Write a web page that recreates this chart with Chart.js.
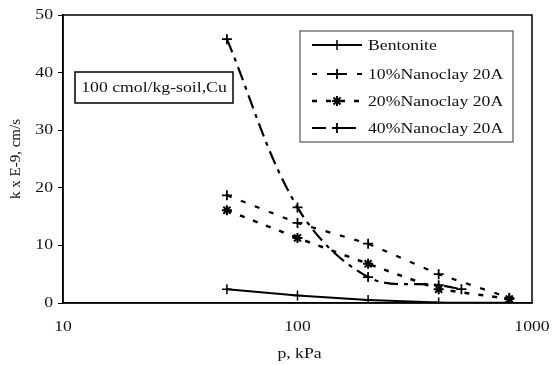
<!DOCTYPE html>
<html>
<head>
<meta charset="utf-8">
<script src="https://cdn.jsdelivr.net/npm/chart.js@4.4.1/dist/chart.umd.min.js"></script>
<style>
  html, body { margin: 0; padding: 0; background: #fff; }
  #wrap { width: 552px; height: 365px; }
</style>
</head>
<body>
<div id="wrap"><canvas id="c" width="552" height="365"></canvas></div>
<script>
// Consolidation pressure (kPa) and hydraulic conductivity k (x 1e-9 cm/s)
const pressure   = [50, 100, 200, 400, 800];
const pressure40 = [50, 100, 200, 400, 500];
const bentonite  = [2.4, 1.3, 0.5, 0.1, 0.05];
const nano10     = [18.7, 13.9, 10.3, 5.0, 0.9];
const nano20     = [16.1, 11.3, 6.8, 2.4, 0.7];
const nano40     = [45.8, 16.6, 4.5, 3.1, 2.4];

const seriesNames = ['Bentonite', '10%Nanoclay 20A', '20%Nanoclay 20A', '40%Nanoclay 20A'];
const xTicks = [10, 100, 1000];
const yTicks = [0, 10, 20, 30, 40, 50];
const noteText = '100 cmol/kg-soil,Cu';
const xTitle = 'p, kPa';
const yTitle = 'k x E-9, cm/s';

const FONT = '15px "Liberation Serif", "Times New Roman", serif';
const INK = '#111';
const SX = 1.18; // horizontal text stretch

const pts = (xs, ys) => xs.map((x, i) => ({ x: x, y: ys[i] }));

const styles = [
  { dash: [],             width: 2,   point: 'cross', radius: 5, pw: 1.5, tension: 0 },
  { dash: [5, 10],        width: 2.2, point: 'cross', radius: 5, pw: 1.8, tension: 0 },
  { dash: [5, 9],         width: 2.5, point: 'star',  radius: 5, pw: 2,   tension: 0 },
  { dash: [14, 6, 4, 6],  width: 2.2, point: 'cross', radius: 5, pw: 1.8, tension: 0.35 }
];

const seriesData = [
  pts(pressure, bentonite),
  pts(pressure, nano10),
  pts(pressure, nano20),
  pts(pressure40, nano40)
];

function stretchedText(ctx, text, x, y, align, baseline) {
  ctx.save();
  ctx.translate(x, y);
  ctx.scale(SX, 1);
  ctx.textAlign = align;
  ctx.textBaseline = baseline || 'middle';
  ctx.fillText(text, 0, 0);
  ctx.restore();
}

const decorPlugin = {
  id: 'decor',
  afterDraw(chart) {
    const { ctx, chartArea: a, scales } = chart;
    ctx.save();

    // plot frame
    ctx.strokeStyle = '#000';
    ctx.lineWidth = 1.5;
    ctx.setLineDash([]);
    ctx.strokeRect(a.left, a.top, a.right - a.left, a.bottom - a.top);

    ctx.font = FONT;
    ctx.fillStyle = INK;

    // tick labels
    yTicks.forEach(v => {
      stretchedText(ctx, String(v), a.left - 10, scales.y.getPixelForValue(v), 'right');
    });
    xTicks.forEach(v => {
      stretchedText(ctx, String(v), scales.x.getPixelForValue(v), 327, 'center');
    });

    // axis titles
    stretchedText(ctx, xTitle, (a.left + a.right) / 2 + 2, 354, 'center');
    ctx.save();
    ctx.translate(16, (a.top + a.bottom) / 2);
    ctx.rotate(-Math.PI / 2);
    ctx.textAlign = 'center';
    ctx.textBaseline = 'middle';
    ctx.fillText(yTitle, 0, 0);
    ctx.restore();

    // note box
    const nb = { x: 75, y: 72, w: 158, h: 31 };
    ctx.fillStyle = '#fff';
    ctx.fillRect(nb.x, nb.y, nb.w, nb.h);
    ctx.strokeStyle = '#000';
    ctx.lineWidth = 1.5;
    ctx.strokeRect(nb.x, nb.y, nb.w, nb.h);
    ctx.fillStyle = INK;
    stretchedText(ctx, noteText, nb.x + nb.w / 2, nb.y + nb.h / 2 + 1, 'center');

    // legend
    const lg = { x: 300, y: 31, w: 213, h: 111 };
    ctx.fillStyle = '#fff';
    ctx.fillRect(lg.x, lg.y, lg.w, lg.h);
    ctx.strokeStyle = '#555';
    ctx.lineWidth = 1.2;
    ctx.strokeRect(lg.x, lg.y, lg.w, lg.h);
    const rows = [45, 74, 101, 128];
    seriesNames.forEach((name, i) => {
      const s = styles[i];
      const y = rows[i];
      ctx.save();
      ctx.strokeStyle = '#000';
      ctx.lineWidth = s.width;
      ctx.setLineDash(s.dash);
      ctx.beginPath();
      ctx.moveTo(312, y);
      ctx.lineTo(362, y);
      ctx.stroke();
      ctx.setLineDash([]);
      ctx.lineWidth = s.pw;
      Chart.helpers.drawPoint(ctx, { pointStyle: s.point, radius: s.radius, rotation: 0, borderWidth: s.pw }, 337, y);
      ctx.restore();
      ctx.fillStyle = INK;
      stretchedText(ctx, name, 368, y + 1, 'left');
    });

    ctx.restore();
  }
};

new Chart(document.getElementById('c'), {
  type: 'line',
  data: {
    datasets: seriesNames.map((name, i) => ({
      label: name,
      data: seriesData[i],
      borderColor: '#000',
      backgroundColor: '#000',
      borderWidth: styles[i].width,
      borderDash: styles[i].dash,
      tension: styles[i].tension,
      pointStyle: styles[i].point,
      pointRadius: styles[i].radius,
      pointBorderWidth: styles[i].pw,
      pointBorderColor: '#000',
      fill: false
    }))
  },
  options: {
    responsive: false,
    animation: false,
    devicePixelRatio: 1,
    layout: { padding: { top: 15, right: 20, left: 0, bottom: 0 } },
    plugins: { legend: { display: false }, tooltip: { enabled: false } },
    scales: {
      x: {
        type: 'logarithmic',
        min: 10,
        max: 1000,
        afterBuildTicks: s => { s.ticks = xTicks.map(v => ({ value: v })); },
        afterFit: s => { s.height = 62; },
        ticks: { display: false },
        grid: { display: false },
        border: { display: true, color: '#000', width: 1.5 }
      },
      y: {
        min: 0,
        max: 50,
        afterBuildTicks: s => { s.ticks = yTicks.map(v => ({ value: v })); },
        afterFit: s => { s.width = 63; },
        ticks: { display: false },
        grid: { drawOnChartArea: false, drawTicks: true, tickLength: 5, color: '#000', lineWidth: 1 },
        border: { display: true, color: '#000', width: 1.5 }
      }
    }
  },
  plugins: [decorPlugin]
});
</script>
</body>
</html>
